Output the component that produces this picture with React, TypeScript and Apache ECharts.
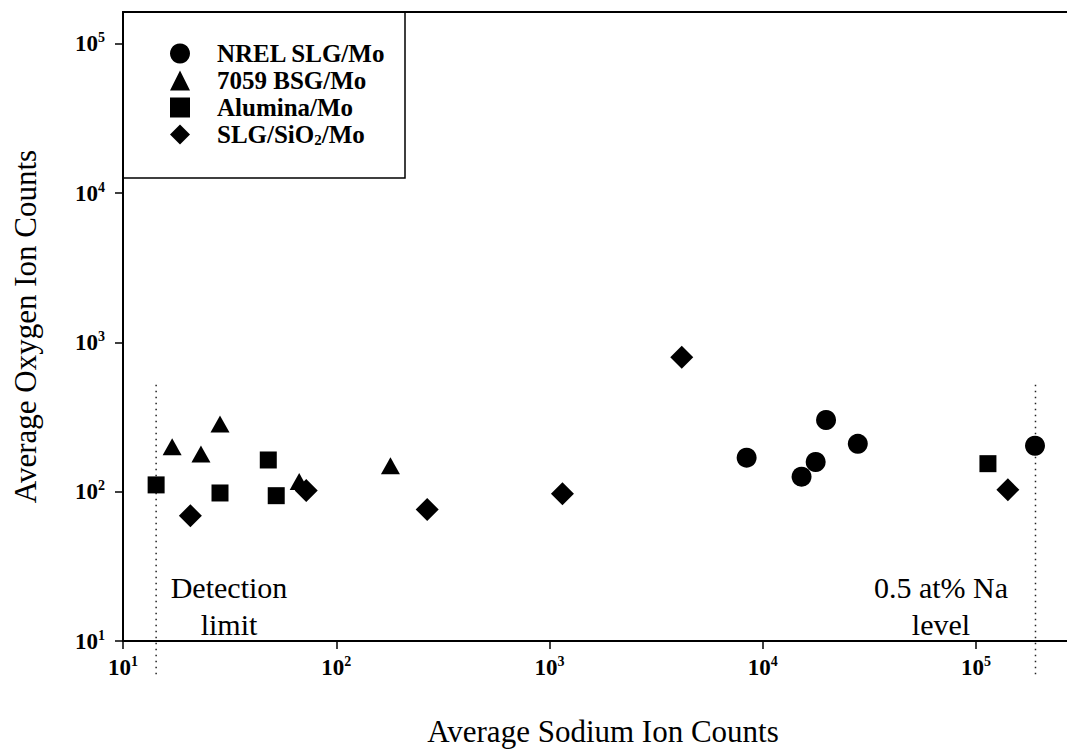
import React, { useEffect, useRef } from "react";
import * as echarts from "echarts";

const FONT = '"Liberation Serif", "Times New Roman", Times, serif';

// Series data (Average Sodium Ion Counts, Average Oxygen Ion Counts)
const nrelNa = [8400, 15200, 17700, 19800, 27900, 189000];
const nrelO = [169, 126, 158, 302, 209, 203];

const bsgNa = [17.0, 23.2, 28.5, 67, 179.5];
const bsgO = [200, 179, 284, 117, 149];

const aluminaNa = [14.3, 28.5, 48, 52.3, 113700];
const aluminaO = [111, 98, 163, 94, 154];

const slgSiO2Na = [20.7, 72.3, 267, 1150, 4170, 141000];
const slgSiO2O = [69, 102, 76, 97, 794, 103];

const seriesNames = ["NREL SLG/Mo", "7059 BSG/Mo", "Alumina/Mo", "SLG/SiO2/Mo"];

// reference lines
const detectionLimitNa = 14.3;
const naLevelNa = 190000;
const refLineO = [520, 5.9];

// axis extents
const xMin = 10;
const xMax = 267000;
const yMin = 10;
const yMax = 163000;

const zip = (xs: number[], ys: number[]) => xs.map((x, i) => [x, ys[i]]);

const powLabel = (v: number) => `{b|10}{sup|${Math.round(Math.log10(v))}}`;

const tickRich = {
  b: { fontSize: 23, fontFamily: FONT, fontWeight: "bold", color: "#000", lineHeight: 26 },
  sup: { fontSize: 14, fontFamily: FONT, fontWeight: "bold", color: "#000", lineHeight: 14, verticalAlign: "top" },
};

export default function App() {
  const ref = useRef<HTMLDivElement>(null);
  useEffect(() => {
    if (!ref.current) return;
    const chart = echarts.init(ref.current, undefined, { renderer: "svg" });
    const refLine = (name: string, x: number) => ({
      name,
      type: "line",
      data: refLineO.map((y) => [x, y]),
      symbol: "none",
      clip: false,
      silent: true,
      z: 1,
      lineStyle: { color: "#222", width: 1.5, type: [1.5, 4.5] },
    });
    chart.setOption({
      animation: false,
      backgroundColor: "#fff",
      grid: { left: 123, right: 0, top: 12, bottom: 108, show: false },
      legend: {
        data: seriesNames,
        orient: "vertical",
        left: 165,
        top: 36,
        itemWidth: 20,
        itemHeight: 20,
        itemGap: 2,
        selectedMode: false,
        formatter: (name: string) => (name === "SLG/SiO2/Mo" ? "SLG/SiO{sub|2}/Mo" : name),
        textStyle: {
          fontFamily: FONT,
          fontSize: 25,
          fontWeight: "bold",
          lineHeight: 25,
          color: "#000",
          padding: [0, 0, 0, 22],
          rich: {
            sub: { fontFamily: FONT, fontSize: 15, fontWeight: "bold", color: "#000", verticalAlign: "bottom", lineHeight: 15 },
          },
        },
      },
      graphic: [
        {
          type: "rect",
          z: 0,
          shape: { x: 123, y: 12, width: 282, height: 166 },
          style: { fill: "#fff", stroke: "#000", lineWidth: 1.5 },
        },
        {
          type: "text",
          z: 10,
          style: {
            text: "Detection\nlimit",
            x: 229,
            y: 606,
            align: "center",
            verticalAlign: "middle",
            fontFamily: FONT,
            fontSize: 30,
            lineHeight: 37,
            fill: "#000",
          },
        },
        {
          type: "text",
          z: 10,
          style: {
            text: "0.5 at% Na\nlevel",
            x: 941,
            y: 606,
            align: "center",
            verticalAlign: "middle",
            fontFamily: FONT,
            fontSize: 30,
            lineHeight: 37,
            fill: "#000",
          },
        },
      ],
      xAxis: [
        {
          type: "log",
          logBase: 10,
          min: xMin,
          max: xMax,
          position: "bottom",
          axisLine: { show: true, onZero: false, lineStyle: { color: "#000", width: 2 } },
          axisTick: { show: true, inside: false, length: 8, lineStyle: { color: "#000", width: 1.5 } },
          minorTick: { show: false },
          splitLine: { show: false },
          axisLabel: { formatter: powLabel, margin: 13, rich: tickRich, showMaxLabel: false },
          name: "Average Sodium Ion Counts",
          nameLocation: "middle",
          nameGap: 75,
          nameTextStyle: { fontFamily: FONT, fontSize: 31, color: "#000", padding: [0, 0, 0, 16] },
        },
        {
          type: "log",
          logBase: 10,
          min: xMin,
          max: xMax,
          position: "top",
          axisLine: { show: true, onZero: false, lineStyle: { color: "#000", width: 2 } },
          axisTick: { show: false },
          axisLabel: { show: false },
          splitLine: { show: false },
        },
      ],
      yAxis: {
        type: "log",
        logBase: 10,
        min: yMin,
        max: yMax,
        axisLine: { show: true, onZero: false, lineStyle: { color: "#000", width: 2 } },
        axisTick: { show: true, inside: false, length: 8, lineStyle: { color: "#000", width: 1.5 } },
        minorTick: { show: false },
        splitLine: { show: false },
        axisLabel: { formatter: powLabel, margin: 18, rich: tickRich, showMaxLabel: false },
        name: "Average Oxygen Ion Counts",
        nameLocation: "middle",
        nameGap: 82,
        nameTextStyle: { fontFamily: FONT, fontSize: 31, color: "#000" },
      },
      series: [
        refLine("detection", detectionLimitNa),
        refLine("nalevel", naLevelNa),
        { name: seriesNames[0], type: "scatter", symbol: "circle", symbolSize: 20, itemStyle: { color: "#000", opacity: 1 }, data: zip(nrelNa, nrelO), z: 3 },
        { name: seriesNames[1], type: "scatter", symbol: "triangle", symbolSize: [19, 17], itemStyle: { color: "#000", opacity: 1 }, data: zip(bsgNa, bsgO), z: 3 },
        { name: seriesNames[2], type: "scatter", symbol: "rect", symbolSize: 17, itemStyle: { color: "#000", opacity: 1 }, data: zip(aluminaNa, aluminaO), z: 3 },
        { name: seriesNames[3], type: "scatter", symbol: "diamond", symbolSize: 23, itemStyle: { color: "#000", opacity: 1 }, data: zip(slgSiO2Na, slgSiO2O), z: 3 },
      ],
    });
    return () => chart.dispose();
  }, []);
  return <div ref={ref} style={{ position: "fixed", left: 0, top: 0, width: 1067, height: 752, background: "#fff" }} />;
}
